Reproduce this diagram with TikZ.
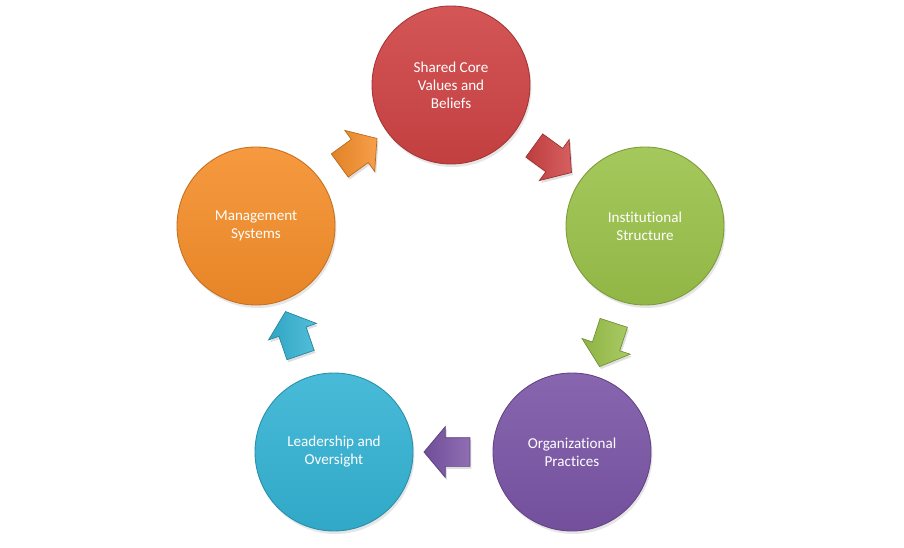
\documentclass[tikz,border=0pt]{standalone}
\usepackage{fontspec}
\setmainfont[Ligatures={NoCommon,NoContextual}, Contextuals=NoAlternate]{Carlito}
\usetikzlibrary{shapes.arrows}
\usetikzlibrary{shadows}
\usetikzlibrary{calc}

\definecolor{corered}{HTML}{CF4344}
\definecolor{structgreen}{HTML}{9BC24A}
\definecolor{practpurple}{HTML}{7B55A6}
\definecolor{leadblue}{HTML}{34B3D4}
\definecolor{mgmtorange}{HTML}{F58E2A}

\tikzset{
  stage/.style={circle, minimum size=3.16cm, inner sep=0pt, align=center, text=white,
    font=\fontsize{8.6}{10.3}\selectfont, top color=#1!90!white, bottom color=#1!94!black,
    draw=#1!80!black, line width=.5pt,
    drop shadow={opacity=.2, shadow xshift=.03cm, shadow yshift=-.06cm}},
  flow/.style={single arrow, minimum height=.92cm, inner sep=.28cm,
    single arrow head extend=.22cm, single arrow tip angle=100, left color=#1!92!black,
    right color=#1!85!white, draw=#1!75!black, line width=.4pt,
    drop shadow={opacity=.25, shadow xshift=.03cm, shadow yshift=-.05cm}}
}

\begin{document}
\begin{tikzpicture}
\useasboundingbox (0,0) rectangle (18.08,10.94);
\node[stage=corered] (core) at (9.02,9.24) {Shared Core\\Values and\\Beliefs};
\node[stage=structgreen] (struct) at (12.9,6.42) {Institutional\\Structure};
\node[stage=practpurple] (pract) at (11.44,1.9) {Organizational\\Practices};
\node[stage=leadblue] (lead) at (6.68,1.9) {Leadership and\\Oversight};
\node[stage=mgmtorange] (mgmt) at (5.12,6.42) {Management\\Systems};
\node[flow=corered, rotate=-36] (a1) at ($(core)!.5!(struct)$) {};
\node[flow=structgreen, rotate=-108] (a2) at ($(struct)!.5!(pract)$) {};
\node[flow=practpurple, rotate=180] (a3) at ($(pract)!.5!(lead)$) {};
\node[flow=leadblue, rotate=109] (a4) at ($(lead)!.5!(mgmt)$) {};
\node[flow=mgmtorange, rotate=36] (a5) at ($(mgmt)!.5!(core)$) {};
\end{tikzpicture}
\end{document}
